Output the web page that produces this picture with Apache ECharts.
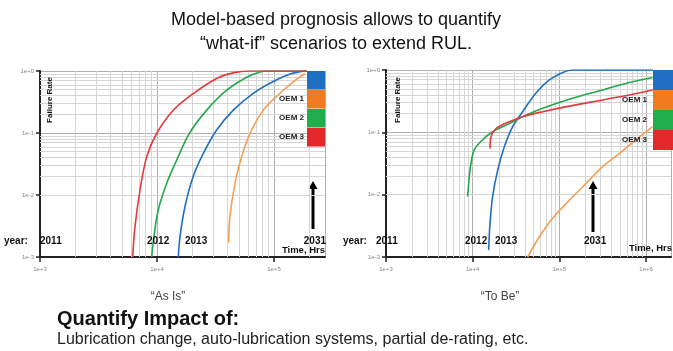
<!DOCTYPE html>
<html><head><meta charset="utf-8">
<script src="https://cdn.jsdelivr.net/npm/echarts@6/dist/echarts.min.js"></script>
<style>html,body{margin:0;padding:0;background:#fff}#c{width:673px;height:351px}</style>
</head><body><div id="c"></div>
<script>
// ---- DATA (Time in Hrs, Failure Rate) ----
const seriesNames = ['Blue', 'OEM 1', 'OEM 2', 'OEM 3'];
// "As Is" chart
const asIsRedX   = [6200, 6486, 7161, 8166, 9931, 13770, 20420, 32360, 44670, 61660, 191000];
const asIsRedY   = [0.001, 0.00309, 0.0120, 0.0412, 0.0982, 0.233, 0.433, 0.759, 0.933, 1, 1];
const asIsGreenX = [9016, 9419, 10260, 12110, 14720, 18880, 26610, 39450, 58480, 75860, 87100, 191000];
const asIsGreenY = [0.001, 0.00214, 0.00575, 0.0155, 0.0363, 0.0977, 0.234, 0.490, 0.794, 0.964, 1, 1];
const asIsBlueX  = [15210, 15740, 17340, 20420, 24890, 32360, 44870, 66530, 98620, 137100, 166700, 191000];
const asIsBlueY  = [0.001, 0.00214, 0.00646, 0.0200, 0.0468, 0.112, 0.234, 0.437, 0.676, 0.891, 0.977, 1];
const asIsOrangeX = [41020, 42070, 46450, 52970, 62370, 81100, 112500, 145200, 184100];
const asIsOrangeY = [0.0017, 0.00447, 0.0155, 0.0417, 0.0977, 0.234, 0.437, 0.661, 0.912];
// "To Be" chart
const toBeGreenX = [8750, 9141, 9550, 10440, 13030, 16980, 26420, 37670, 64120, 130000, 315500, 639700, 1191000];
const toBeGreenY = [0.00933, 0.0195, 0.0316, 0.0525, 0.0759, 0.102, 0.138, 0.178, 0.243, 0.339, 0.479, 0.631, 0.759];
const toBeRedX   = [15850, 16260, 18580, 26420, 37670, 64120, 130000, 315500, 639700, 1191000];
const toBeRedY   = [0.0550, 0.0851, 0.115, 0.148, 0.178, 0.214, 0.263, 0.331, 0.398, 0.479];
const toBeBlueX  = [15280, 15850, 16980, 19410, 23170, 28910, 37670, 53700, 76560, 109100, 142200, 1202000];
const toBeBlueY  = [0.00129, 0.00347, 0.00933, 0.0245, 0.0589, 0.123, 0.214, 0.427, 0.692, 0.912, 1, 1];
const toBeOrangeX = [43050, 58610, 83560, 130000, 202800, 315500, 490900, 763800, 1191000];
const toBeOrangeY = [0.001, 0.00209, 0.00417, 0.00813, 0.0151, 0.0282, 0.0457, 0.0759, 0.123];
// axes
const xMinHrs = 1000;
const asIsXMax = 273000;
const toBeXMax = 1940000;
const yMin = 0.001, yMax = 1;
const legendLabels = ['', 'OEM 1', 'OEM 2', 'OEM 3'];

// ---- styling ----
const C = {blue:'#1f6fc1', orange:'#f59d55', green:'#22a84a', red:'#e4393a'};
const boxC = ['#1e6fc1', '#f47a20', '#1fae4b', '#e5262b'];
const zip = (xs, ys) => xs.map((x, i) => [x, ys[i]]);

function fmt(v){
  const e = Math.log10(v); const r = Math.round(e);
  if (Math.abs(e - r) > 1e-6) return '';
  return '1e' + (r >= 0 ? '+' : '') + r;
}
function minorVals(lo, hi){
  const out = [];
  for (let d = lo; d < hi; d++) for (let k = 2; k <= 9; k++) out.push(k * Math.pow(10, d));
  return out;
}
const grids = [
  {left: 40, top: 71, width: 285, height: 186},
  {left: 386, top: 70, width: 285, height: 187}
];
function xAxis(i, max, n){
  return {type:'log', gridIndex:i, min:xMinHrs, max:max, logBase:10, splitNumber:n,
    axisLine:{show:true, lineStyle:{color:'#222', width:2}},
    axisTick:{show:true, length:5, lineStyle:{color:'#222', width:1.5}},
    axisLabel:{fontSize:6, color:'#888', margin:9, formatter:fmt, showMaxLabel:false, fontFamily:'Liberation Sans'},
    splitLine:{show:true, lineStyle:{color:'#b0b0b0', width:1}}};
}
function yAxis(i){
  return {type:'log', gridIndex:i, min:yMin, max:yMax, logBase:10, splitNumber:3,
    axisLine:{show:true, lineStyle:{color:'#222', width:2}},
    axisTick:{show:true, length:4, lineStyle:{color:'#222', width:1.5}},
    axisLabel:{fontSize:6, color:'#888', margin:6, formatter:fmt, fontFamily:'Liberation Sans'},
    splitLine:{show:true, lineStyle:{color:'#b0b0b0', width:1}}};
}
function gridSeries(i, xHiDec){
  const xs = minorVals(3, xHiDec).filter(v => v < (i ? toBeXMax : asIsXMax));
  const ys = minorVals(-3, 0);
  return {type:'line', xAxisIndex:i, yAxisIndex:i, data:[[xMinHrs, yMin]], symbol:'none', silent:true, z:1,
    lineStyle:{opacity:0},
    markLine:{silent:true, z:1, symbol:['none','none'], label:{show:false}, animation:false,
      lineStyle:{color:'#d6d6d6', width:1, type:'solid'},
      data:[...xs.map(v => ({xAxis:v})), ...ys.map(v => ({yAxis:v}))]}};
}
function curve(i, xs, ys, color){
  return {type:'line', xAxisIndex:i, yAxisIndex:i, data:zip(xs, ys), symbol:'none', smooth:0.35, z:10,
    lineStyle:{color:color, width:1.6}};
}
function txt(x, y, text, size, opts){
  opts = opts || {};
  return {type:'text', x:x, y:y, z:100, rotation:opts.rot || 0,
    style:{text:text, font:(opts.bold ? 'bold ' : '') + size + 'px ' + (opts.family || '"Liberation Sans", Arial, sans-serif'),
      fill:opts.color || '#111', textAlign:opts.align || 'left', align:opts.align || 'left',
      textVerticalAlign:'middle', verticalAlign:'middle'}};
}
function arrow(x, y1, y2){
  return {type:'group', z:100, children:[
    {type:'line', shape:{x1:x, y1:y1, x2:x, y2:y2 + 6}, style:{stroke:'#000', lineWidth:3}},
    {type:'polygon', shape:{points:[[x - 4.5, y2 + 8], [x + 4.5, y2 + 8], [x, y2]]}, style:{fill:'#000'}}
  ]};
}
function legendBoxes(x, w, ys, h, labelRight){
  const els = [];
  ys.forEach((y, k) => {
    els.push({type:'rect', z:90, shape:{x:x, y:y, width:w, height:h}, style:{fill:boxC[k]}});
    if (legendLabels[k]) els.push(txt(labelRight, y + h / 2, legendLabels[k], 8, {bold:true, align:'right', color:'#222'}));
  });
  return els;
}

const graphic = [
  txt(336, 20, 'Model-based prognosis allows to quantify', 18, {align:'center'}),
  txt(336, 44, '\u201cwhat-if\u201d scenarios to extend RUL.', 18, {align:'center'}),
  txt(50, 100, 'Failure Rate', 8, {bold:true, align:'center', rot:Math.PI / 2}),
  txt(398, 100, 'Failure Rate', 8, {bold:true, align:'center', rot:Math.PI / 2}),
  // left annotations
  txt(4, 241, 'year:', 10, {bold:true}),
  txt(40, 241, '2011', 10, {bold:true}),
  txt(147, 241, '2012', 10, {bold:true}),
  txt(185, 241, '2013', 10, {bold:true}),
  txt(326, 241, '2031', 10, {bold:true, align:'right'}),
  txt(325, 250, 'Time, Hrs', 9.5, {bold:true, align:'right'}),
  arrow(313, 229, 181),
  // right annotations
  txt(343, 241, 'year:', 10, {bold:true}),
  txt(376, 241, '2011', 10, {bold:true}),
  txt(465, 241, '2012', 10, {bold:true}),
  txt(495, 241, '2013', 10, {bold:true}),
  txt(584, 241, '2031', 10, {bold:true}),
  txt(672, 248, 'Time, Hrs', 9.5, {bold:true, align:'right'}),
  arrow(593, 232, 181),
  ...legendBoxes(307, 18, [71, 90, 109, 128], 18.5, 304),
  ...legendBoxes(653, 20, [70, 90, 110, 130], 20, 647),
  txt(168, 297, '\u201cAs Is\u201d', 12, {align:'center', color:'#444'}),
  txt(500, 297, '\u201cTo Be\u201d', 12, {align:'center', color:'#444'}),
  txt(57, 319, 'Quantify Impact of:', 20, {bold:true}),
  txt(57, 340, 'Lubrication change, auto-lubrication systems, partial de-rating, etc.', 16, {color:'#222'})
];

const chart = echarts.init(document.getElementById('c'), null, {renderer:'canvas'});
chart.setOption({
  animation:false,
  backgroundColor:'#fff',
  grid:grids,
  xAxis:[xAxis(0, asIsXMax, 3), xAxis(1, toBeXMax, 4)],
  yAxis:[yAxis(0), yAxis(1)],
  series:[
    gridSeries(0, 6), gridSeries(1, 7),
    curve(0, asIsOrangeX, asIsOrangeY, C.orange),
    curve(0, asIsBlueX, asIsBlueY, C.blue),
    curve(0, asIsGreenX, asIsGreenY, C.green),
    curve(0, asIsRedX, asIsRedY, C.red),
    curve(1, toBeOrangeX, toBeOrangeY, C.orange),
    curve(1, toBeBlueX, toBeBlueY, C.blue),
    curve(1, toBeGreenX, toBeGreenY, C.green),
    curve(1, toBeRedX, toBeRedY, C.red)
  ],
  graphic:graphic
});
</script></body></html>
